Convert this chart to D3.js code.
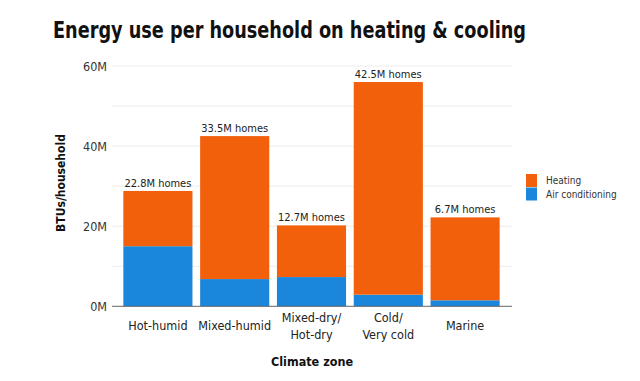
<!DOCTYPE html>
<html>
<head>
<meta charset="utf-8">
<script src="https://cdn.jsdelivr.net/npm/d3@7"></script>
<style>
  body { margin: 0; background: #fff; }
  text { font-family: "DejaVu Sans Condensed", "Liberation Sans Narrow", "Roboto", sans-serif; }
</style>
</head>
<body>
<div id="container"></div>
<script>
let w = 640;
let h = 381;

// DATA (millions of BTUs per household)
let zones = ["Hot-humid", "Mixed-humid", "Mixed-dry/Hot-dry", "Cold/Very cold", "Marine"];
let zoneLines = [["Hot-humid"], ["Mixed-humid"], ["Mixed-dry/", "Hot-dry"], ["Cold/", "Very cold"], ["Marine"]];
let airConditioning = [15.0, 6.8, 7.3, 2.9, 1.5];
let heating = [13.8, 35.7, 12.9, 53.1, 20.7];
let homes = ["22.8M homes", "33.5M homes", "12.7M homes", "42.5M homes", "6.7M homes"];
let yTicks = [0, 20, 40, 60];
let gridTicks = [10, 20, 30, 40, 50, 60];
let seriesNames = ["Heating", "Air conditioning"];
let colors = ["#f2600c", "#1a87dc"];

let viz = d3.select("#container").append("svg")
    .attr("width", w)
    .attr("height", h)
    .style("background-color", "white");

let xScale = d3.scaleBand().domain(zones).range([119.5, 503.5]).paddingInner(0.1).paddingOuter(0.05);
let yScale = d3.scaleLinear().domain([0, 60]).range([306.3, 66]);

// title (squeezed to the condensed width of the original)
viz.append("text")
    .attr("x", 53).attr("y", 38)
    .attr("font-size", 23).attr("font-weight", "bold")
    .attr("fill", "#111")
    .attr("textLength", 473).attr("lengthAdjust", "spacingAndGlyphs")
    .text("Energy use per household on heating & cooling");

// gridlines
viz.selectAll(".grid").data(gridTicks).enter()
  .append("line")
    .attr("x1", 112).attr("x2", 512)
    .attr("y1", d => yScale(d)).attr("y2", d => yScale(d))
    .attr("stroke", "#ececec").attr("stroke-width", 1);

// bars
let stacked = zones.map(function(z, i) {
  return { zone: z, ac: airConditioning[i], heat: heating[i], label: homes[i] };
});

viz.selectAll(".ac").data(stacked).enter()
  .append("rect")
    .attr("x", d => xScale(d.zone))
    .attr("width", xScale.bandwidth())
    .attr("y", d => yScale(d.ac))
    .attr("height", d => yScale(0) - yScale(d.ac))
    .attr("fill", colors[1]);

viz.selectAll(".heat").data(stacked).enter()
  .append("rect")
    .attr("x", d => xScale(d.zone))
    .attr("width", xScale.bandwidth())
    .attr("y", d => yScale(d.ac + d.heat))
    .attr("height", d => yScale(d.ac) - yScale(d.ac + d.heat))
    .attr("fill", colors[0]);

viz.selectAll(".homes").data(stacked).enter()
  .append("text")
    .attr("x", d => xScale(d.zone) + xScale.bandwidth() / 2)
    .attr("y", d => yScale(d.ac + d.heat) - 4)
    .attr("text-anchor", "middle")
    .attr("font-size", 11).attr("fill", "#222")
    .text(d => d.label);

// baseline
viz.append("line")
    .attr("x1", 112).attr("x2", 512)
    .attr("y1", yScale(0)).attr("y2", yScale(0))
    .attr("stroke", "#666").attr("stroke-width", 1);

// y tick labels
viz.selectAll(".ytick").data(yTicks).enter()
  .append("text")
    .attr("x", 107)
    .attr("y", d => yScale(d) + 4.5)
    .attr("text-anchor", "end")
    .attr("font-size", 12.5).attr("fill", "#333")
    .text(d => d + "M");

// y axis title
viz.append("text")
    .attr("transform", "translate(65,183) rotate(-90)")
    .attr("text-anchor", "middle")
    .attr("font-size", 12).attr("font-weight", "bold").attr("fill", "#111")
    .text("BTUs/household");

// x tick labels
zoneLines.forEach(function(lines, i) {
  let t = viz.append("text")
      .attr("x", xScale(zones[i]) + xScale.bandwidth() / 2)
      .attr("text-anchor", "middle")
      .attr("font-size", 12.5).attr("fill", "#222");
  let y0 = lines.length == 1 ? 330 : 322;
  lines.forEach(function(l, j) {
    t.append("tspan")
      .attr("x", xScale(zones[i]) + xScale.bandwidth() / 2)
      .attr("y", y0 + j * 17)
      .text(l);
  });
});

// x axis title
viz.append("text")
    .attr("x", 312).attr("y", 366)
    .attr("text-anchor", "middle")
    .attr("font-size", 12.5).attr("font-weight", "bold").attr("fill", "#111")
    .text("Climate zone");

// legend
seriesNames.forEach(function(name, i) {
  viz.append("rect")
      .attr("x", 526).attr("y", 174 + i * 13.5)
      .attr("width", 11).attr("height", 13)
      .attr("fill", colors[i]);
  viz.append("text")
      .attr("x", 546).attr("y", 184 + i * 14)
      .attr("font-size", 10).attr("fill", "#333")
      .text(name);
});
</script>
</body>
</html>
